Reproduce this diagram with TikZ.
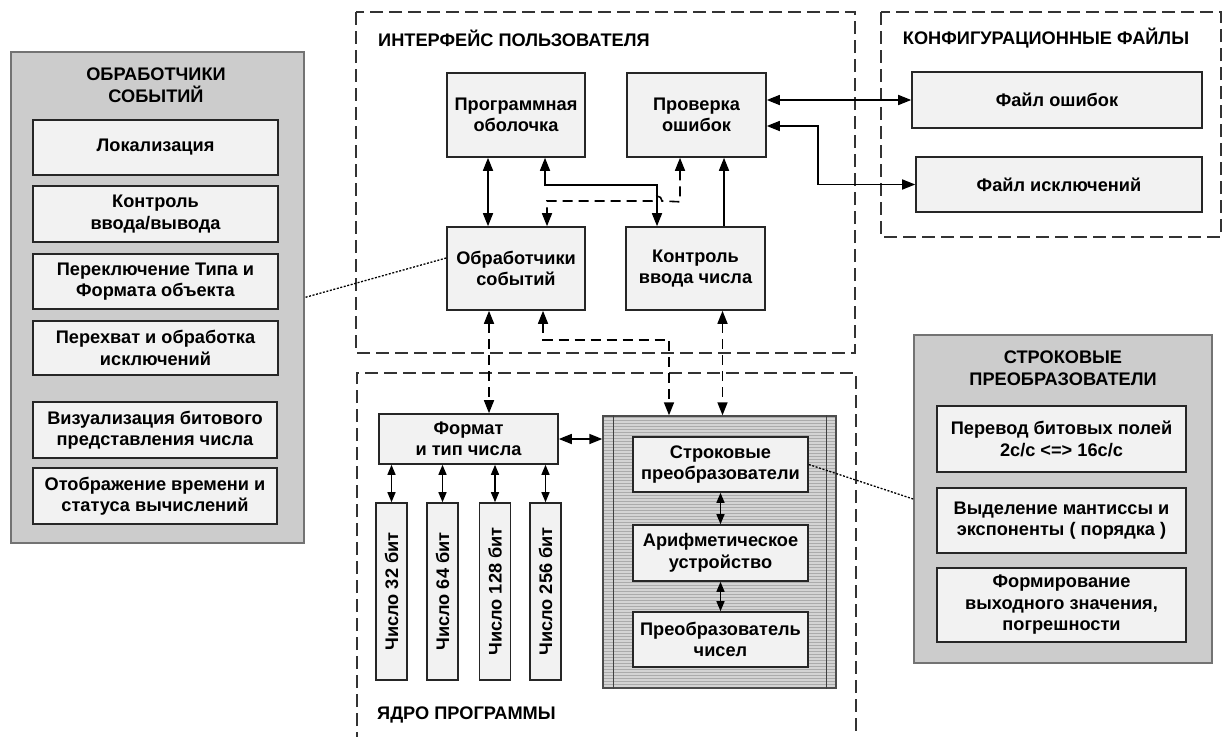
\documentclass[tikz,border=0pt]{standalone}
\usepackage{fontspec}
\setmainfont{Liberation Sans}
\usetikzlibrary{arrows.meta,patterns}
\newcommand{\lbl}{\fontsize{18.2}{21.5}\selectfont\bfseries}
\colorlet{panelgray}{black!20}
\colorlet{boxgray}{black!5}
\tikzset{
  blk/.style={draw=black!85, fill=boxgray, line width=1.6pt, align=center, inner sep=0pt, font=\lbl},
  panel/.style={draw=black!55, fill=panelgray, line width=1.6pt, inner sep=0pt},
  grp/.style={draw=black!80, line width=1.4pt, dash pattern=on 13pt off 6pt},
  ttl/.style={align=center, inner sep=0pt, font=\lbl},
  con/.style={line width=1.6pt, -{Triangle[length=13pt,width=10pt]}},
  dbl/.style={line width=1.6pt, {Triangle[length=13pt,width=10pt]}-{Triangle[length=13pt,width=10pt]}},
  sdbl/.style={line width=1.4pt, {Triangle[length=10pt,width=8pt]}-{Triangle[length=10pt,width=8pt]}},
  dsh/.style={dash pattern=on 10pt off 6pt},
  dot/.style={line width=1.3pt, dash pattern=on 2pt off 1.6pt}
}
\begin{document}
\begin{tikzpicture}[x=1pt,y=-1pt]
\useasboundingbox (0,0) rectangle (1223,736);

% groups
\draw[grp] (356,12) rectangle (855,353);
\draw[grp] (881,12) rectangle (1221,237);
\draw[grp] (357,745) -- (357,373) -- (856,373) -- (856,745);
\node[ttl, anchor=west] (uittl) at (378,38) {ИНТЕРФЕЙС ПОЛЬЗОВАТЕЛЯ};
\node[ttl] (cfgttl) at (1046,38) {КОНФИГУРАЦИОННЫЕ ФАЙЛЫ};
\node[ttl, anchor=west] (corettl) at (377,715) {ЯДРО ПРОГРАММЫ};

% user interface
\node[blk, minimum width=138pt, minimum height=84pt] (shell) at (516,115) {Программная\\оболочка};
\node[blk, minimum width=139pt, minimum height=84pt] (errchk) at (696.5,115) {Проверка\\ошибок};
\node[blk, minimum width=138pt, minimum height=83pt] (handlers) at (516,268.5) {Обработчики\\событий};
\node[blk, minimum width=139pt, minimum height=83pt] (inctl) at (695.5,268.5) {Контроль\\ввода числа};

% config files
\node[blk, minimum width=290pt, minimum height=56pt] (errfile) at (1057,100) {Файл ошибок};
\node[blk, minimum width=286pt, minimum height=55pt] (excfile) at (1059,184.5) {Файл исключений};

% event handlers panel
\node[panel, minimum width=293pt, minimum height=491pt] (evpanel) at (157.5,297.5) {};
\node[ttl] (evttl) at (156,85) {ОБРАБОТЧИКИ\\СОБЫТИЙ};
\node[blk, minimum width=245pt, minimum height=55pt] (ev1) at (155.5,147.5) {Локализация};
\node[blk, minimum width=245pt, minimum height=56pt] (ev2) at (155.5,214) {Контроль\\ввода/вывода};
\node[blk, minimum width=245pt, minimum height=55pt] (ev3) at (155.5,281.5) {Переключение Типа и\\Формата объекта};
\node[blk, minimum width=245pt, minimum height=54pt] (ev4) at (155.5,348) {Перехват и обработка\\исключений};
\node[blk, minimum width=244pt, minimum height=56pt] (ev5) at (155,430) {Визуализация битового\\представления числа};
\node[blk, minimum width=244pt, minimum height=56pt] (ev6) at (155,496) {Отображение времени и\\статуса вычислений};

% core
\node[blk, minimum width=179pt, minimum height=50pt] (fmt) at (468.5,439) {Формат\\и тип числа};
\foreach \x/\n/\t in {391.5/b1/32, 442.5/b2/64, 495/b3/128, 545.5/b4/256}
  \node[blk, rotate=90, minimum width=177pt, minimum height=31pt] (\n) at (\x,591.5) {Число \t{} бит};
\node[draw=black!70, line width=1.4pt, minimum width=233pt, minimum height=272pt,
  preaction={fill=black!17}, pattern=horizontal lines, pattern color=black!33] (strbox) at (719.5,552) {};
\draw[line width=1.3pt, black!75] ([xshift=11pt]strbox.north west) -- ([xshift=11pt]strbox.south west);
\draw[line width=1.3pt, black!75] ([xshift=-10pt]strbox.north east) -- ([xshift=-10pt]strbox.south east);
\node[blk, minimum width=175pt, minimum height=55pt] (str) at (720.5,464.5) {Строковые\\преобразователи};
\node[blk, minimum width=175pt, minimum height=56pt] (alu) at (720.5,553) {Арифметическое\\устройство};
\node[blk, minimum width=175pt, minimum height=55pt] (conv) at (720.5,639.5) {Преобразователь\\чисел};

% string converters panel
\node[panel, minimum width=298pt, minimum height=328pt] (strpanel) at (1063,499) {};
\node[ttl] (strttl) at (1063,368) {СТРОКОВЫЕ\\ПРЕОБРАЗОВАТЕЛИ};
\node[blk, minimum width=249pt, minimum height=66pt] (sp1) at (1061.5,439) {Перевод битовых полей\\2с/с <=> 16с/с};
\node[blk, minimum width=249pt, minimum height=65pt] (sp2) at (1061.5,520.5) {Выделение мантиссы и\\экспоненты ( порядка )};
\node[blk, minimum width=249pt, minimum height=74pt] (sp3) at (1061.5,605) {Формирование\\выходного значения,\\погрешности};

% connectors, user interface
\draw[dbl] ([xshift=-28pt]shell.south) -- ([xshift=-28pt]handlers.north);
\draw[dbl] ([xshift=29pt]shell.south) -- ++(0,27) -| ([xshift=-38.5pt]inctl.north);
\draw[dbl, dsh] ([xshift=-16.5pt]errchk.south) -- ++(0,44) -- (662,201)
  arc[start angle=0, end angle=180, radius=5pt] -| ([xshift=31pt]handlers.north);
\draw[con] ([xshift=28.5pt]inctl.north) -- ([xshift=28.5pt]inctl.north |- errchk.south);
\draw[dbl] (errchk.east |- errfile.west) -- (errfile.west);
\draw[dbl] ([yshift=-11pt]errchk.east) -- ++(51,0) |- (excfile.west);

% connectors, interface to core
\draw[dbl, dsh] ([xshift=-27pt]handlers.south) -- ([xshift=-27pt]handlers.south |- fmt.north);
\draw[dbl, dsh] ([xshift=27pt]handlers.south) -- ++(0,29) -| ([xshift=-50.5pt]strbox.north);
\draw[dbl, dsh] ([xshift=27pt]inctl.south) -- ([xshift=27pt]inctl.south |- strbox.north);

% connectors, core
\draw[dbl] (fmt.east) -- (strbox.west |- fmt.east);
\foreach \n in {b1,b2,b3,b4}
  \draw[sdbl] (fmt.south -| \n.east) -- (\n.east);
\draw[sdbl] (str.south) -- (alu.north);
\draw[sdbl] (alu.south) -- (conv.north);

% callouts
\draw[dot] ([yshift=10.5pt]handlers.west) -- (evpanel.east);
\draw[dot] (str.east) -- (strpanel.west);
\end{tikzpicture}
\end{document}
